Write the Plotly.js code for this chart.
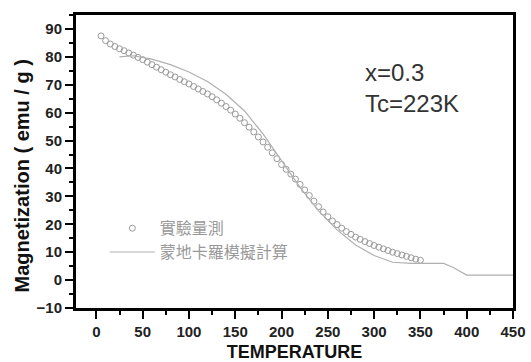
<!DOCTYPE html>
<html>
<head>
<meta charset="utf-8">
<script src="https://cdn.plot.ly/plotly-3.0.1.min.js"></script>
<style>html,body{margin:0;padding:0;background:#fff;}#chart{width:531px;height:362px;}</style>
</head>
<body>
<div id="chart"></div>
<script>
// Experimental data (circles)
var expTemp = [5,10,15,20,25,30,35,40,45,50,55,60,65,70,75,80,85,90,95,100,
  105,110,115,120,125,130,135,140,145,150,155,160,165,170,175,180,185,190,195,200,
  205,210,215,220,225,230,235,240,245,250,255,260,265,270,275,280,285,290,295,300,
  305,310,315,320,325,330,335,340,345,350];
var expMag = [87.5,85.8,84.6,83.7,82.9,82.2,81.4,80.6,79.8,79.0,78.1,77.2,76.3,75.4,74.5,73.6,72.8,71.9,71.1,70.3,
  69.4,68.5,67.6,66.7,65.7,64.6,63.4,62.2,60.9,59.5,58.0,56.4,54.8,53.1,51.3,49.5,47.6,45.6,43.5,41.4,
  39.7,38.0,36.2,34.3,32.3,30.3,28.3,26.3,24.4,22.7,21.2,19.9,18.6,17.4,16.4,15.4,14.6,13.8,13.1,12.4,
  11.8,11.2,10.6,10.0,9.5,9.0,8.5,8.0,7.5,7.1];

// Monte Carlo simulation (line)
var simTemp = [25,40,60,80,100,120,140,160,180,200,220,240,260,280,300,320,340,360,375,385,395,400,425,450];
var simMag = [80.0,80.4,79.2,77.2,74.6,71.2,66.6,60.6,52.4,42.6,33.2,24.8,18.0,12.6,8.8,6.4,6.0,6.0,6.0,4.6,2.6,1.8,1.8,1.8];

var seriesNames = ["實驗量測", "蒙地卡羅模擬計算"];
var xTitle = "TEMPERATURE";
var yTitle = "Magnetization ( emu / g )";
var noteLines = ["x=0.3", "Tc=223K"];

var traces = [
  {x: expTemp, y: expMag, name: seriesNames[0], type: "scatter", mode: "markers",
   marker: {symbol: "circle-open", size: 6, color: "#9a9a9a", line: {width: 1, color: "#9a9a9a"}}},
  {x: simTemp, y: simMag, name: seriesNames[1], type: "scatter", mode: "lines",
   line: {color: "#b0b0b0", width: 1.2}}
];

var axisCommon = {
  showline: true, linecolor: "#000", linewidth: 3, mirror: true,
  ticks: "outside", ticklen: 8, tickwidth: 2, tickcolor: "#000",
  showgrid: false, zeroline: false,
  tickfont: {family: "Liberation Sans, Arial, sans-serif", size: 15, color: "#222", weight: "bold"}
};

var layout = {
  width: 531, height: 362,
  margin: {l: 76, r: 18, t: 15, b: 54},
  paper_bgcolor: "#fff", plot_bgcolor: "#fff",
  showlegend: true,
  legend: {x: 0.066, y: 0.33, xanchor: "left", yanchor: "top", bgcolor: "rgba(0,0,0,0)",
           itemwidth: 45, tracegroupgap: 0,
           font: {family: "Noto Sans CJK TC, sans-serif", size: 16, color: "#999"}},
  xaxis: Object.assign({}, axisCommon, {
    range: [-22, 450], tick0: 0, dtick: 50,
    minor: {ticks: "outside", ticklen: 4, tickwidth: 2, tickcolor: "#000", dtick: 25, tick0: 0},
    title: {text: xTitle, standoff: 8, font: {family: "Liberation Sans, Arial, sans-serif", size: 18, color: "#111", weight: "bold"}}
  }),
  yaxis: Object.assign({}, axisCommon, {
    range: [-10, 95], tick0: -10, dtick: 10,
    minor: {ticks: "outside", ticklen: 4, tickwidth: 2, tickcolor: "#000", dtick: 5, tick0: 0}
  }),
  annotations: [
    {xref: "paper", yref: "paper", x: 0, xshift: -54, y: 0.449, text: yTitle, textangle: -90,
     showarrow: false, xanchor: "center", yanchor: "middle",
     font: {family: "Liberation Sans, Arial, sans-serif", size: 20, color: "#111", weight: "bold"}},
    {xref: "x", yref: "y", x: 288, y: 74.5, text: noteLines[0], showarrow: false, xanchor: "left", yanchor: "middle",
     font: {family: "Liberation Sans, Arial, sans-serif", size: 24, color: "#333"}},
    {xref: "x", yref: "y", x: 288, y: 63.3, text: noteLines[1], showarrow: false, xanchor: "left", yanchor: "middle",
     font: {family: "Liberation Sans, Arial, sans-serif", size: 24, color: "#333"}}
  ]
};

Plotly.newPlot("chart", traces, layout, {staticPlot: true, displayModeBar: false});
</script>
</body>
</html>
